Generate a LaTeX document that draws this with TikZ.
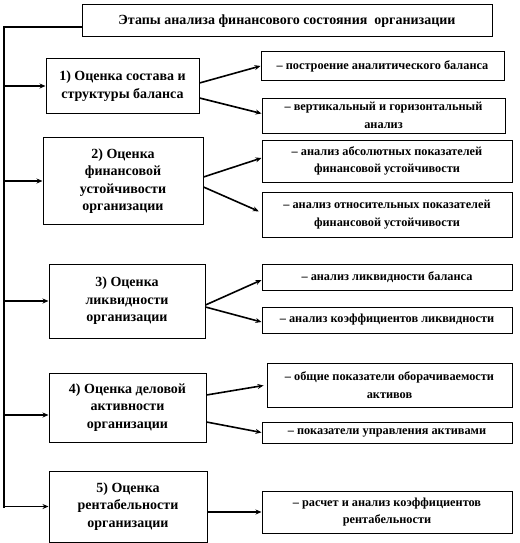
\documentclass[tikz,border=0pt]{standalone}
\usepackage{fontspec}
\setmainfont{Liberation Serif}
\usetikzlibrary{arrows.meta}
\tikzset{
  stage/.style={draw, line width=1pt, align=center, inner sep=2pt,
                font=\fontsize{14}{17.5}\selectfont\bfseries},
  task/.style={draw, line width=1pt, align=center, inner sep=2pt,
               font=\fontsize{12.3}{17.5}\selectfont\bfseries},
  arr/.style={-{Stealth[length=6pt,width=5pt]}, line width=1.6pt},
  spine/.style={line width=1.2pt}
}

\begin{document}
\begin{tikzpicture}[x=1pt, y=-1pt]
        \useasboundingbox (0,0) rectangle (519,543);
        \node[task, minimum width=410pt, minimum height=32pt,
              font=\fontsize{14}{16}\selectfont\bfseries] (title) at (287,21)
              {Этапы анализа финансового состояния\ \ организации};
        \coordinate (bottom) at (4,508);

        \node[stage, minimum width=153pt, minimum height=54pt] (stage1) at (122.5,86)
              {1) Оценка состава и\\структуры баланса};
        \node[task, minimum width=243pt, minimum height=28pt] (task1a) at (382.5,66)
              {– построение аналитического баланса};
        \node[task, minimum width=243pt, minimum height=35pt] (task1b) at (383.5,115.5)
              {– вертикальный и горизонтальный\\анализ};

        \node[stage, minimum width=160pt, minimum height=87pt] (stage2) at (123,181)
              {2) Оценка\\финансовой\\устойчивости\\организации};
        \node[task, minimum width=250pt, minimum height=42pt] (task2a) at (387,161)
              {– анализ абсолютных показателей\\финансовой устойчивости};
        \node[task, minimum width=250pt, minimum height=45pt] (task2b) at (387,214.5)
              {– анализ относительных показателей\\финансовой устойчивости};

        \node[stage, minimum width=156pt, minimum height=74pt] (stage3) at (127,301)
              {3) Оценка\\ликвидности\\организации};
        \node[task, minimum width=250pt, minimum height=26pt] (task3a) at (387,277)
              {– анализ ликвидности баланса};
        \node[task, minimum width=250pt, minimum height=26pt] (task3b) at (387,320)
              {– анализ коэффициентов ликвидности};

        \node[stage, minimum width=157pt, minimum height=69pt] (stage4) at (127.5,407.5)
              {4) Оценка деловой\\активности\\организации};
        \node[task, minimum width=245pt, minimum height=44pt] (task4a) at (389.5,385)
              {– общие показатели оборачиваемости\\активов};
        \node[task, minimum width=250pt, minimum height=21pt] (task4b) at (387,432.5)
              {– показатели управления активами};

        \node[stage, minimum width=158pt, minimum height=71pt] (stage5) at (128,506.5)
              {5) Оценка\\рентабельности\\организации};
        \node[task, minimum width=250pt, minimum height=42pt] (task5a) at (387,512)
              {– расчет и анализ коэффициентов\\рентабельности};

        \draw[spine] ([yshift=-6pt]title.west) -| (bottom);
        \foreach \s in {1,2,3,5}
          \draw[arr] (stage\s.west -| bottom) -- (stage\s.west);
        \draw[arr] ([yshift=-7.5pt]stage4.west -| bottom) -- ([yshift=-7.5pt]stage4.west);

        \draw[arr] ([yshift=3pt]stage1.east) -- (task1a.west);
        \draw[arr] ([yshift=-12pt]stage1.east) -- ([yshift=2pt]task1b.west);
        \draw[arr] ([yshift=4pt]stage2.east) -- ([yshift=3pt]task2a.west);
        \draw[arr, shorten >=3pt] ([yshift=-6pt]stage2.east) -- ([yshift=2pt]task2b.west);
        \draw[arr] ([yshift=-4pt]stage3.east) -- ([yshift=-3pt]task3a.west);
        \draw[arr] ([yshift=-6pt]stage3.east) -- ([yshift=-2pt]task3b.west);
        \draw[arr, shorten >=3pt] ([yshift=12.5pt]stage4.east) -- (task4a.west);
        \draw[arr] ([yshift=-14.5pt]stage4.east) -- (task4b.west);
        \draw[arr, line width=2.4pt] (stage5.east |- task5a.west) -- (task5a.west);
\end{tikzpicture}
\end{document}
